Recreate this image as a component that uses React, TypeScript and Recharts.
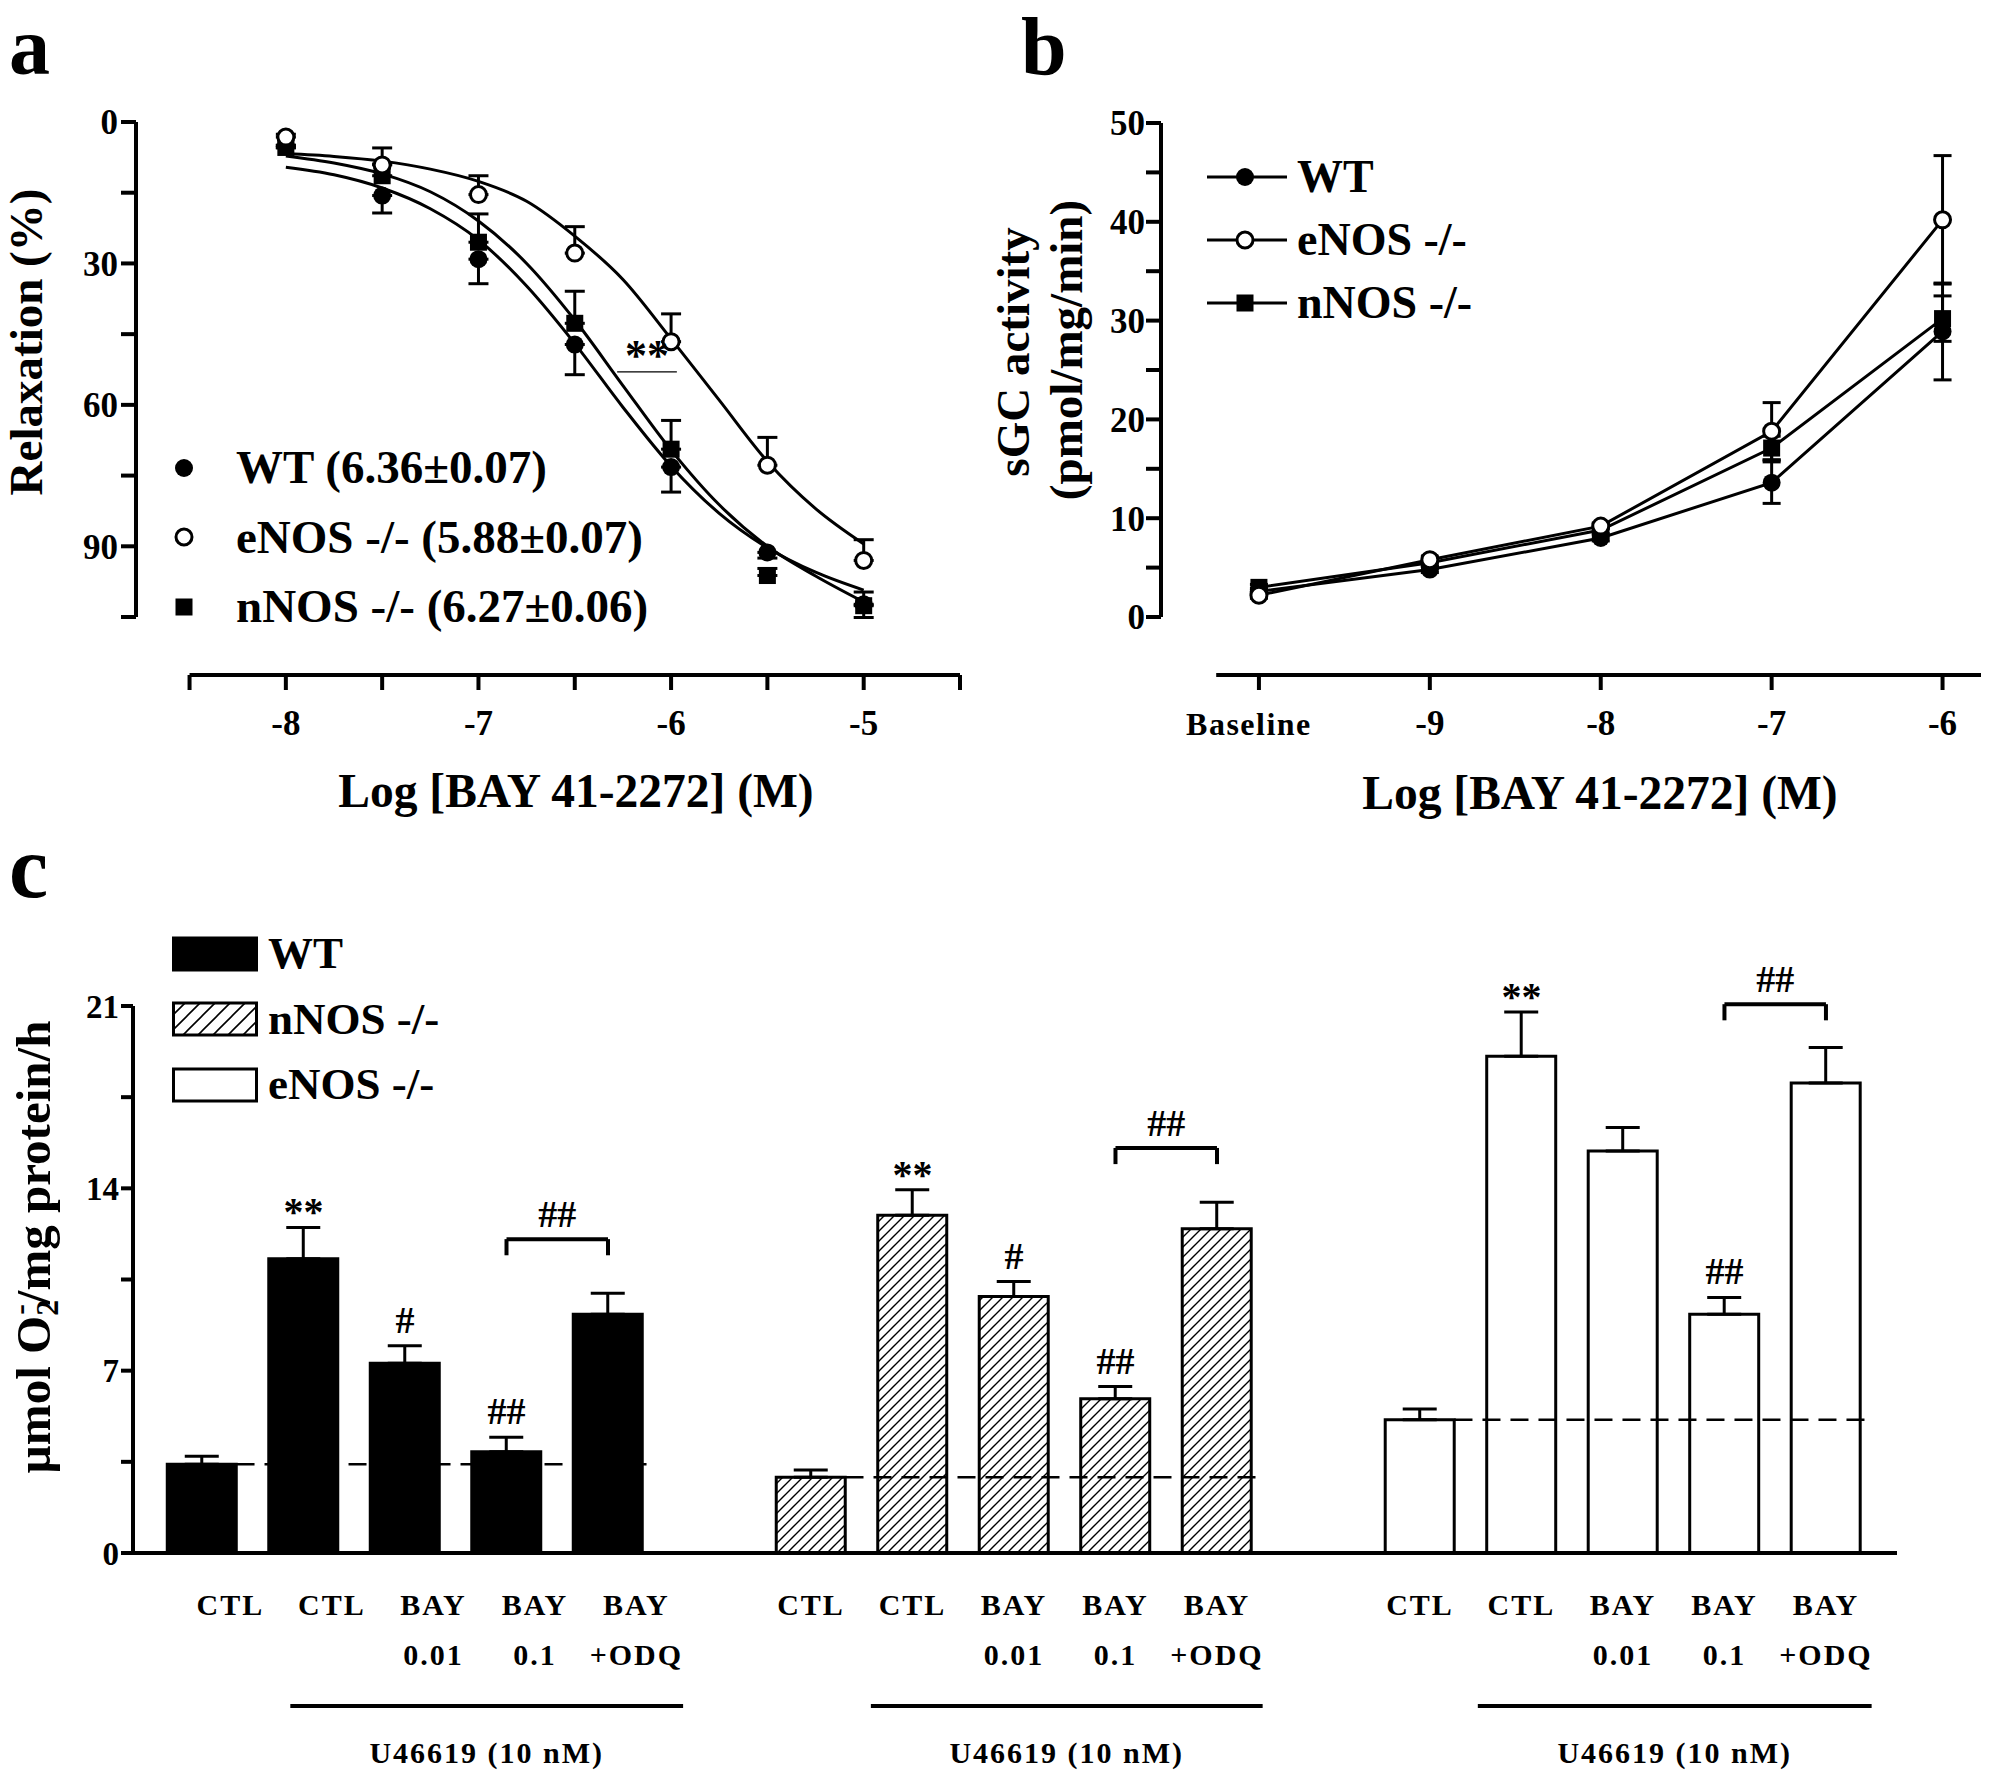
import React from 'react';
import { ComposedChart, Line, Bar, Cell, XAxis, YAxis, ErrorBar, ReferenceLine, Scatter, Legend } from 'recharts';

const FONT = '"Liberation Serif", "Times New Roman", Times, serif';
const K = '#000';

// ---------------- Panel a : relaxation ----------------
const aPointX = [-8, -7.5, -7, -6.5, -6, -5.5, -5];
const aWT = [5.0, 15.6, 29.1, 47.2, 73.2, 91.3, 102.3];
const aWTErr = [0.5, 3.7, 5.2, 6.4, 5.3, 1.2, 2.8];
const aEN = [3.2, 9.1, 15.4, 27.8, 46.6, 72.8, 93.0];
const aENErr = [0.6, 3.6, 4.0, 5.6, 5.9, 5.9, 4.4];
const aNN = [5.4, 11.4, 25.5, 42.7, 69.4, 96.2, 102.6];
const aNNErr = [0.5, 2.5, 6.0, 6.8, 6.1, 1.5, 2.9];
// fitted curves
const aCurveX = [-8, -7.75, -7.5, -7.25, -7, -6.75, -6.5, -6.25, -6, -5.75, -5.5, -5.25, -5];
const aWTCurve = [9.6, 11.2, 14.0, 18.4, 25.0, 34.8, 47.0, 60.5, 73.0, 83.0, 90.3, 95.5, 99.3];
const aENCurve = [6.7, 7.3, 8.3, 10.0, 12.6, 16.8, 24.2, 33.4, 46.0, 59.0, 72.0, 82.0, 89.5];
const aNNCurve = [7.2, 8.7, 11.0, 14.8, 21.0, 30.0, 42.0, 55.9, 69.6, 81.2, 90.0, 96.3, 101.8];
const aXTicks = [-8.5, -8, -7.5, -7, -6.5, -6, -5.5, -5, -4.5];
const aXLabels = ['', '-8', '', '-7', '', '-6', '', '-5', ''];
const aYTicks = [0, 15, 30, 45, 60, 75, 90, 105];
const aYLabels = ['0', '', '30', '', '60', '', '90', ''];
const aLegend = ['WT (6.36\u00B10.07)', 'eNOS -/- (5.88\u00B10.07)', 'nNOS -/- (6.27\u00B10.06)'];

// ---------------- Panel b : sGC activity ----------------
const bX = [-10, -9, -8, -7, -6];
const bXLabels = ['Baseline', '-9', '-8', '-7', '-6'];
const bWT = [2.6, 4.8, 8.0, 13.6, 28.9];
const bWTErr = [0.3, 0.3, 0.3, 2.1, 4.9];
const bEN = [2.2, 5.8, 9.2, 18.8, 40.2];
const bENErr = [0.3, 0.3, 0.3, 2.9, 6.5];
const bNN = [3.0, 5.5, 8.8, 17.1, 30.2];
const bNNErr = [0.3, 0.3, 0.3, 1.2, 2.3];
const bYTicks = [0, 5, 10, 15, 20, 25, 30, 35, 40, 45, 50];
const bYLabels = ['0', '', '10', '', '20', '', '30', '', '40', '', '50'];
const bLegend = ['WT', 'eNOS -/-', 'nNOS -/-'];

// ---------------- Panel c : superoxide ----------------
const cGroups = ['WT', 'nNOS -/-', 'eNOS -/-'];
const cGroupStart = [0, 6, 12];
const cLabelShift = [0.28, 0, 0];
const cLabelTop = ['CTL', 'CTL', 'BAY', 'BAY', 'BAY'];
const cLabelBottom = ['', '', '0.01', '0.1', '+ODQ'];
const cWT = [3.41, 11.3, 7.28, 3.89, 9.17];
const cWTErr = [0.3, 1.2, 0.68, 0.55, 0.8];
const cNN = [2.91, 12.97, 9.85, 5.92, 12.45];
const cNNErr = [0.28, 0.98, 0.57, 0.47, 1.02];
const cEN = [5.12, 19.07, 15.43, 9.17, 18.04];
const cENErr = [0.41, 1.7, 0.91, 0.64, 1.37];
const cWTSig = ['', '**', '#', '##', ''];
const cNNSig = ['', '**', '#', '##', ''];
const cENSig = ['', '**', '', '##', ''];
const cBracketY = [12.05, 15.55, 21.07];
const cUnderStart = [0.87, 0.59, 0.57];
const cUnderEnd = [4.74, 4.45, 4.45];
const cYTicks = [0, 3.5, 7, 10.5, 14, 17.5, 21];
const cYLabels = ['0', '', '7', '', '14', '', '21'];
const cGroupLabel = 'U46619 (10 nM)';
const cFills = ['#000', 'url(#hatchC)', '#fff'];

// ---------------- data tables ----------------
const aPoints = aPointX.map((x, i) => ({
  x,
  wt: aWT[i], wtE: [0, aWTErr[i]],
  en: aEN[i], enE: [aENErr[i], 0],
  nn: aNN[i], nnE: [aNNErr[i], 0],
}));
const aCurve = aCurveX.map((x, i) => ({ x, wt: aWTCurve[i], en: aENCurve[i], nn: aNNCurve[i] }));
const bData = bX.map((x, i) => ({
  x, wt: bWT[i], wtE: bWTErr[i], en: bEN[i], enE: bENErr[i], nn: bNN[i], nnE: bNNErr[i],
}));
const cSeries = [
  { v: cWT, e: cWTErr, s: cWTSig },
  { v: cNN, e: cNNErr, s: cNNSig },
  { v: cEN, e: cENErr, s: cENSig },
];
const cData: any[] = [];
cSeries.forEach((g, gi) => {
  g.v.forEach((v, j) => {
    cData.push({ x: cGroupStart[gi] + j, value: v, err: [0, g.e[j]], fill: cFills[gi], ann: v + g.e[j], sig: g.s[j] });
  });
});
const cAnn = cData.filter((d) => d.sig);
const cTickPos: number[] = [];
cGroupStart.forEach((s, gi) => cLabelTop.forEach((_, j) => cTickPos.push(s + j + cLabelShift[gi])));

// ---------------- render helpers ----------------
const txt = { fontFamily: FONT, fontWeight: 700, fill: K } as any;

const FilledCircle = (p: any) => <circle key={`fc${p.index}`} cx={p.cx} cy={p.cy} r={9} fill={K} />;
const OpenCircle = (p: any) => <circle key={`oc${p.index}`} cx={p.cx} cy={p.cy} r={8} fill="#fff" stroke={K} strokeWidth={3} />;
const FilledSquare = (p: any) => <rect key={`fs${p.index}`} x={p.cx - 8.5} y={p.cy - 8.5} width={17} height={17} fill={K} />;

const ATick = (p: any) => {
  const i = aXTicks.indexOf(p.payload.value);
  return <text x={p.x} y={p.y + 45} textAnchor="middle" fontSize={35} {...txt}>{aXLabels[i]}</text>;
};
const BTick = (p: any) => {
  const i = bX.indexOf(p.payload.value);
  const small = i === 0;
  return (
    <text x={p.x + (small ? -10 : 0)} y={p.y + 45} textAnchor="middle" fontSize={small ? 32 : 35} letterSpacing={small ? 1.5 : 0} {...txt}>
      {bXLabels[i]}
    </text>
  );
};
const CTick = (p: any) => {
  const j = p.index % 5;
  return (
    <g>
      <text x={p.x} y={p.y + 62} textAnchor="middle" fontSize={30} letterSpacing={2} {...txt}>{cLabelTop[j]}</text>
      <text x={p.x} y={p.y + 112} textAnchor="middle" fontSize={30} letterSpacing={2} {...txt}>{cLabelBottom[j]}</text>
    </g>
  );
};
const AnnShape = (p: any) => {
  const star = p.payload.sig[0] === '*';
  return (
    <text x={p.cx} y={p.cy - (star ? 2 : 13)} textAnchor="middle" fontSize={star ? 40 : 38} {...txt}>
      {p.payload.sig}
    </text>
  );
};

const axisTickStyle = (size: number) => ({ fontSize: size, fontFamily: FONT, fontWeight: 700, fill: K });
const tickLine = { stroke: K, strokeWidth: 4 };

const ALegend = () => (
  <div style={{ fontFamily: FONT, fontWeight: 700, fontSize: 47, color: K }}>
    {aLegend.map((t, i) => (
      <div key={t} style={{ display: 'flex', alignItems: 'center', height: 69.5 }}>
        <svg width={30} height={30}>
          {i === 0 && <circle cx={15} cy={15} r={9} fill={K} />}
          {i === 1 && <circle cx={15} cy={15} r={8} fill="#fff" stroke={K} strokeWidth={3} />}
          {i === 2 && <rect x={6.5} y={6.5} width={17} height={17} fill={K} />}
        </svg>
        <span style={{ marginLeft: 37, whiteSpace: 'nowrap', lineHeight: 1 }}>{t}</span>
      </div>
    ))}
  </div>
);
const BLegend = () => (
  <div style={{ fontFamily: FONT, fontWeight: 700, fontSize: 46, color: K }}>
    {bLegend.map((t, i) => (
      <div key={t} style={{ display: 'flex', alignItems: 'center', height: 63 }}>
        <svg width={80} height={30}>
          <line x1={0} y1={15} x2={80} y2={15} stroke={K} strokeWidth={3} />
          {i === 0 && <circle cx={38} cy={15} r={9} fill={K} />}
          {i === 1 && <circle cx={38} cy={15} r={8} fill="#fff" stroke={K} strokeWidth={3} />}
          {i === 2 && <rect x={29.5} y={6.5} width={17} height={17} fill={K} />}
        </svg>
        <span style={{ marginLeft: 10, whiteSpace: 'nowrap', lineHeight: 1 }}>{t}</span>
      </div>
    ))}
  </div>
);
const CLegend = () => (
  <div style={{ fontFamily: FONT, fontWeight: 700, fontSize: 45, color: K }}>
    {[0, 1, 2].map((gi) => (
      <div key={gi} style={{ display: 'flex', alignItems: 'center', height: 65.5 }}>
        <svg width={86} height={36}>
          <defs>
            <pattern id={`hatchL${gi}`} patternUnits="userSpaceOnUse" width="15" height="15">
              <rect width="15" height="15" fill="#fff" />
              <path d="M-2,2 l4,-4 M0,15 l15,-15 M13,17 l4,-4" stroke={K} strokeWidth={1.6} />
            </pattern>
          </defs>
          <rect x={1.5} y={2} width={83} height={32} fill={gi === 0 ? K : gi === 1 ? `url(#hatchL${gi})` : '#fff'} stroke={K} strokeWidth={3} />
        </svg>
        <span style={{ marginLeft: 10, whiteSpace: 'nowrap', lineHeight: 1 }}>{cGroups[gi]}</span>
      </div>
    ))}
  </div>
);

const legendProps = { layout: 'horizontal', verticalAlign: 'middle', align: 'center' } as any;

export default function App() {
  return (
    <div style={{ position: 'absolute', left: 0, top: 0, width: 1989, height: 1770, background: '#fff' }}>
      {/* Panel a */}
      <div style={{ position: 'absolute', left: 0, top: 0 }}>
        <ComposedChart width={990} height={830} margin={{ top: 122, right: 30, bottom: 95, left: 0 }}>
          <XAxis dataKey="x" type="number" domain={[-8.778, -4.5]} allowDataOverflow ticks={aXTicks} interval={0}
            axisLine={false} tickLine={tickLine} tickSize={15} tickMargin={0} tick={<ATick />} height={60} />
          <YAxis type="number" domain={[0, 117.3]} allowDataOverflow reversed ticks={aYTicks} interval={0}
            axisLine={false} tickLine={tickLine} tickSize={15} tickMargin={3} width={136}
            tickFormatter={(v: number) => aYLabels[aYTicks.indexOf(v)]} tick={axisTickStyle(35)} />
          <ReferenceLine segment={[{ x: -8.778, y: 0 }, { x: -8.778, y: 105 }]} stroke={K} strokeWidth={4} ifOverflow="visible" />
          <ReferenceLine segment={[{ x: -8.5, y: 117.3 }, { x: -4.5, y: 117.3 }]} stroke={K} strokeWidth={4} ifOverflow="visible" />
          <Line data={aCurve} dataKey="en" type="monotone" stroke={K} strokeWidth={3} dot={false} activeDot={false} isAnimationActive={false} legendType="none" />
          <Line data={aCurve} dataKey="nn" type="monotone" stroke={K} strokeWidth={3} dot={false} activeDot={false} isAnimationActive={false} legendType="none" />
          <Line data={aCurve} dataKey="wt" type="monotone" stroke={K} strokeWidth={3} dot={false} activeDot={false} isAnimationActive={false} legendType="none" />
          <Line data={aPoints} dataKey="wt" stroke="none" dot={FilledCircle} activeDot={false} isAnimationActive={false} legendType="none">
            <ErrorBar dataKey="wtE" width={10} strokeWidth={3} stroke={K} />
          </Line>
          <Line data={aPoints} dataKey="nn" stroke="none" dot={FilledSquare} activeDot={false} isAnimationActive={false} legendType="none">
            <ErrorBar dataKey="nnE" width={10} strokeWidth={3} stroke={K} />
          </Line>
          <Line data={aPoints} dataKey="en" stroke="none" dot={OpenCircle} activeDot={false} isAnimationActive={false} legendType="none">
            <ErrorBar dataKey="enE" width={10} strokeWidth={3} stroke={K} />
          </Line>
          <ReferenceLine segment={[{ x: -6.28, y: 53 }, { x: -5.97, y: 53 }]} stroke={K} strokeWidth={1.2} ifOverflow="visible"
            label={{ value: '**', position: 'top', offset: 2, fontSize: 44, fontFamily: FONT, fontWeight: 700, fill: K }} />
          <Legend {...legendProps} content={ALegend} wrapperStyle={{ left: 169, top: 433, width: 700, height: 'auto' }} />
        </ComposedChart>
      </div>

      {/* Panel b */}
      <div style={{ position: 'absolute', left: 990, top: 0 }}>
        <ComposedChart width={999} height={830} data={bData} margin={{ top: 123, right: 8, bottom: 95, left: 0 }}>
          <XAxis dataKey="x" type="number" domain={[-10.573, -5.775]} allowDataOverflow ticks={bX} interval={0}
            axisLine={false} tickLine={tickLine} tickSize={15} tickMargin={0} tick={<BTick />} height={60} />
          <YAxis type="number" domain={[-5.87, 50]} allowDataOverflow ticks={bYTicks} interval={0}
            axisLine={false} tickLine={tickLine} tickSize={15} tickMargin={1} width={171}
            tickFormatter={(v: number) => bYLabels[bYTicks.indexOf(v)]} tick={axisTickStyle(35)} />
          <ReferenceLine segment={[{ x: -10.573, y: 0 }, { x: -10.573, y: 50 }]} stroke={K} strokeWidth={4} ifOverflow="visible" />
          <ReferenceLine segment={[{ x: -10.25, y: -5.87 }, { x: -5.775, y: -5.87 }]} stroke={K} strokeWidth={4} ifOverflow="visible" />
          <Line dataKey="wt" stroke={K} strokeWidth={3} dot={FilledCircle} activeDot={false} isAnimationActive={false} legendType="none">
            <ErrorBar dataKey="wtE" width={9} strokeWidth={3} stroke={K} />
          </Line>
          <Line dataKey="nn" stroke={K} strokeWidth={3} dot={FilledSquare} activeDot={false} isAnimationActive={false} legendType="none">
            <ErrorBar dataKey="nnE" width={9} strokeWidth={3} stroke={K} />
          </Line>
          <Line dataKey="en" stroke={K} strokeWidth={3} dot={OpenCircle} activeDot={false} isAnimationActive={false} legendType="none">
            <ErrorBar dataKey="enE" width={9} strokeWidth={3} stroke={K} />
          </Line>
          <Legend {...legendProps} content={BLegend} wrapperStyle={{ left: 217, top: 145, width: 500, height: 'auto' }} />
        </ComposedChart>
      </div>

      {/* Panel c */}
      <div style={{ position: 'absolute', left: 0, top: 840 }}>
        <ComposedChart width={1989} height={930} data={cData} margin={{ top: 166, right: 92, bottom: 97, left: 33 }}>
          <defs>
            <pattern id="hatchC" patternUnits="userSpaceOnUse" width="10" height="10">
              <rect width="10" height="10" fill="#fff" />
              <path d="M-1,1 l2,-2 M0,10 l10,-10 M9,11 l2,-2" stroke={K} strokeWidth={1.4} />
            </pattern>
          </defs>
          <XAxis dataKey="x" type="number" domain={[-0.68, 16.7]} ticks={cTickPos} interval={0}
            axisLine={{ stroke: K, strokeWidth: 4 }} tickLine={false} tickSize={0} tickMargin={0} tick={<CTick />} height={120} />
          <YAxis type="number" domain={[0, 21]} ticks={cYTicks} interval={0}
            axisLine={{ stroke: K, strokeWidth: 4 }} tickLine={tickLine} tickSize={12} tickMargin={2} width={100}
            tickFormatter={(v: number) => cYLabels[cYTicks.indexOf(v)]} tick={axisTickStyle(33)} />
          <Bar dataKey="value" barSize={69} stroke={K} strokeWidth={3} isAnimationActive={false} legendType="none">
            {cData.map((d, i) => <Cell key={i} fill={d.fill} />)}
            <ErrorBar dataKey="err" width={17} strokeWidth={3} stroke={K} />
          </Bar>
          {cGroupStart.map((s, gi) => (
            <ReferenceLine key={`d${gi}`} segment={[{ x: s + 0.34, y: cSeries[gi].v[0] }, { x: s + 4.45, y: cSeries[gi].v[0] }]}
              stroke={K} strokeWidth={2.5} strokeDasharray="18 10" ifOverflow="visible" />
          ))}
          {cGroupStart.map((s, gi) => (
            <ReferenceLine key={`bh${gi}`} segment={[{ x: s + 3, y: cBracketY[gi] }, { x: s + 4, y: cBracketY[gi] }]}
              stroke={K} strokeWidth={4} ifOverflow="visible"
              label={{ value: '##', position: 'top', offset: 12, fontSize: 38, fontFamily: FONT, fontWeight: 700, fill: K }} />
          ))}
          {cGroupStart.map((s, gi) => (
            <ReferenceLine key={`bl${gi}`} segment={[{ x: s + 3, y: cBracketY[gi] }, { x: s + 3, y: cBracketY[gi] - 0.62 }]}
              stroke={K} strokeWidth={4} ifOverflow="visible" />
          ))}
          {cGroupStart.map((s, gi) => (
            <ReferenceLine key={`br${gi}`} segment={[{ x: s + 4, y: cBracketY[gi] }, { x: s + 4, y: cBracketY[gi] - 0.62 }]}
              stroke={K} strokeWidth={4} ifOverflow="visible" />
          ))}
          {cGroupStart.map((s, gi) => (
            <ReferenceLine key={`u${gi}`} segment={[{ x: s + cUnderStart[gi], y: -5.87 }, { x: s + cUnderEnd[gi], y: -5.87 }]}
              stroke={K} strokeWidth={4} ifOverflow="visible"
              label={{ value: cGroupLabel, position: 'bottom', offset: 36, fontSize: 30, fontFamily: FONT, fontWeight: 700, fill: K, letterSpacing: 2 }} />
          ))}
          <Scatter data={cAnn} dataKey="ann" shape={AnnShape} isAnimationActive={false} legendType="none" />
          <Legend {...legendProps} content={CLegend} wrapperStyle={{ left: 172, top: 81, width: 600, height: 'auto' }} />
        </ComposedChart>
      </div>

      {/* titles and panel letters */}
      <svg width={1989} height={1770} style={{ position: 'absolute', left: 0, top: 0, pointerEvents: 'none' }}>
        <g fontFamily={FONT} fontWeight={700} fill={K}>
          <text x={9} y={74} fontSize={82}>a</text>
          <text x={1021} y={74} fontSize={82}>b</text>
          <text x={9} y={897} fontSize={88}>c</text>
          <text x={576} y={807} fontSize={47.5} textAnchor="middle">Log [BAY 41-2272] (M)</text>
          <text x={1600} y={809} fontSize={47.5} textAnchor="middle">Log [BAY 41-2272] (M)</text>
          <text transform="translate(26,342) rotate(-90)" fontSize={47} textAnchor="middle" dominantBaseline="central">Relaxation (%)</text>
          <text transform="translate(1013,352) rotate(-90)" fontSize={47} textAnchor="middle" dominantBaseline="central">sGC activity</text>
          <text transform="translate(1066,350) rotate(-90)" fontSize={47} textAnchor="middle" dominantBaseline="central">(pmol/mg/min)</text>
          <text transform="translate(50,1247) rotate(-90)" fontSize={49} textAnchor="middle">
            <tspan>{'\u00B5mol O'}</tspan>
            <tspan fontSize={32} dy={8}>2</tspan>
            <tspan fontSize={32} dx={-15} dy={-28}>-</tspan>
            <tspan dy={20}>/mg protein/h</tspan>
          </text>
        </g>
      </svg>
    </div>
  );
}
